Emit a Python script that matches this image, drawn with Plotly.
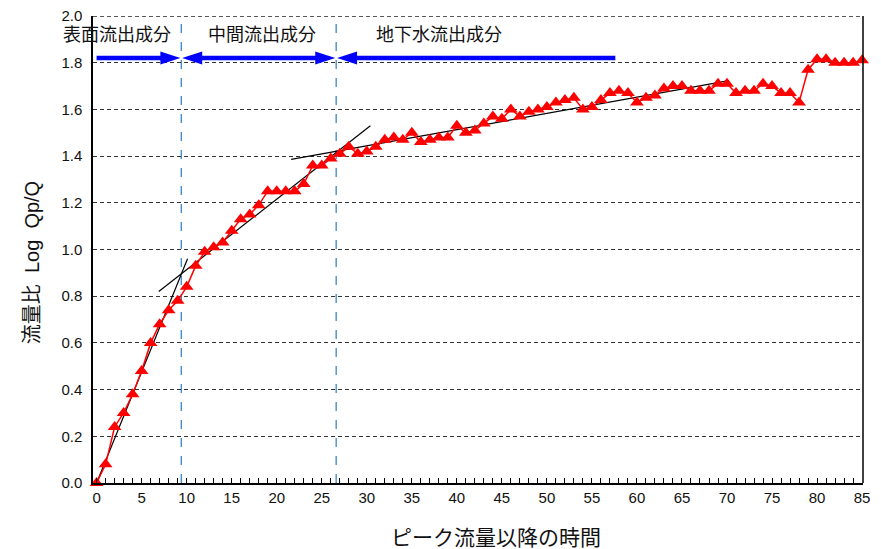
"""Recession-curve separation chart: log flow ratio vs. time since peak."""

import plotly.graph_objects as go

# time after peak and log(Qp/Q)
hours = list(range(0, 86))
log_ratio = [
    0.00, 0.08, 0.24, 0.30, 0.38, 0.48, 0.60, 0.68, 0.74, 0.78,
    0.84, 0.93, 0.99, 1.01, 1.03, 1.08, 1.13, 1.15, 1.19, 1.25,
    1.25, 1.25, 1.25, 1.28, 1.36, 1.36, 1.39, 1.41, 1.44, 1.41,
    1.42, 1.44, 1.47, 1.48, 1.47, 1.50, 1.46, 1.47, 1.48, 1.48,
    1.53, 1.50, 1.51, 1.54, 1.57, 1.56, 1.60, 1.57, 1.59, 1.60,
    1.61, 1.63, 1.64, 1.65, 1.60, 1.61, 1.64, 1.67, 1.68, 1.67,
    1.63, 1.65, 1.66, 1.69, 1.70, 1.70, 1.68, 1.68, 1.68, 1.71,
    1.71, 1.67, 1.68, 1.68, 1.71, 1.70, 1.67, 1.67, 1.63, 1.77,
    1.815, 1.815, 1.80, 1.80, 1.80, 1.81,
]

# straight-line fits for each runoff component: (x0, y0, x1, y1)
fit_lines = [
    (0.0, 0.00, 10.1, 0.96),
    (6.9, 0.82, 30.4, 1.53),
    (21.6, 1.386, 70.2, 1.723),
]

# component boundaries (blue dashed verticals)
phase_bounds = [9.4, 26.6]

# component arrows: start, end, which ends carry a head
arrow_y = 1.82
arrow_spans = [(0.0, 9.3, "end"), (9.5, 26.5, "both"), (26.7, 57.6, "start")]

# component labels
label_texts = ["表面流出成分", "中間流出成分", "地下水流出成分"]
label_x = [2.3, 18.4, 38.0]
label_y = 1.92

y_ticks = [round(0.2 * i, 1) for i in range(11)]
x_ticks = list(range(0, 86, 5))
y_max = 2.0

FONT = "Liberation Sans, Arial, Noto Sans CJK JP"
BLUE = "#0000ff"

fig = go.Figure()

for x0, y0, x1, y1 in fit_lines:
    fig.add_trace(go.Scatter(
        x=[x0, x1], y=[y0, y1], mode="lines",
        line={"color": "black", "width": 1.2}, hoverinfo="skip",
    ))

fig.add_trace(go.Scatter(
    x=hours, y=log_ratio, mode="lines+markers", cliponaxis=False,
    line={"color": "#ff0000", "width": 1.5},
    marker={"symbol": "triangle-up", "size": 12, "color": "#ff0000"},
))

for bx in phase_bounds:
    fig.add_shape(type="line", xref="x", yref="paper", x0=bx, x1=bx, y0=0, y1=1,
                  line={"color": "#2a7bc4", "width": 1.2, "dash": "dash"}, layer="below")

# arrows: thick shaft plus pixel-sized heads anchored at the span ends
for x0, x1, heads in arrow_spans:
    sx0 = x0 + (2.0 if heads in ("start", "both") else 0)
    sx1 = x1 - (2.0 if heads in ("end", "both") else 0)
    fig.add_shape(type="line", x0=sx0, x1=sx1, y0=arrow_y, y1=arrow_y,
                  line={"color": BLUE, "width": 4.5})
    if heads in ("end", "both"):
        fig.add_shape(type="path", xsizemode="pixel", ysizemode="pixel",
                      xanchor=x1, yanchor=arrow_y,
                      path="M 0 0 L -20 6.5 L -20 -6.5 Z",
                      fillcolor=BLUE, line={"width": 0})
    if heads in ("start", "both"):
        fig.add_shape(type="path", xsizemode="pixel", ysizemode="pixel",
                      xanchor=x0, yanchor=arrow_y,
                      path="M 0 0 L 20 6.5 L 20 -6.5 Z",
                      fillcolor=BLUE, line={"width": 0})

for text, lx in zip(label_texts, label_x):
    fig.add_annotation(x=lx, y=label_y, text=text, showarrow=False,
                       font={"size": 18, "color": "#111"})

# axis titles as annotations so they sit where the original puts them
fig.add_annotation(xref="paper", yref="paper", x=-0.079, y=0.471,
                   xanchor="center", yanchor="middle",
                   text="流量比  Log  Qp/Q", textangle=-90, showarrow=False,
                   font={"size": 20, "color": "#111"})
fig.add_annotation(xref="paper", yref="paper", x=0.523, y=-0.116,
                   xanchor="center", yanchor="middle",
                   text="ピーク流量以降の時間", showarrow=False,
                   font={"size": 21, "color": "#111"})

# top edge of the frame is the dashed 2.0 gridline; right edge is solid
fig.add_shape(type="line", xref="paper", yref="y", x0=0, x1=1, y0=y_max, y1=y_max,
              line={"color": "#222", "width": 1.5, "dash": "4px,3px"})
fig.add_shape(type="line", xref="paper", yref="paper", x0=1, x1=1, y0=0, y1=1,
              line={"color": "black", "width": 1.5})

# the page body has an 8px margin, so the figure margins absorb that offset
fig.update_layout(
    width=881, height=549,
    margin={"l": 85, "r": 26, "t": 8, "b": 74},
    paper_bgcolor="white", plot_bgcolor="white",
    showlegend=False,
    font={"family": FONT, "size": 15, "color": "#111"},
    xaxis={
        "range": [-0.4, 85.1], "tickvals": x_ticks, "showgrid": False,
        "automargin": False,
        "zeroline": False, "showline": True, "linecolor": "black", "linewidth": 2,
        "mirror": False, "ticks": "inside", "ticklen": 5, "tickcolor": "black",
        "minor": {"dtick": 1, "ticks": "inside", "ticklen": 5, "tickcolor": "black"},
    },
    yaxis={
        "range": [0, y_max], "tickvals": y_ticks, "tickformat": ".1f",
        "ticklabeloverflow": "allow", "automargin": False,
        "showgrid": True, "gridcolor": "#333", "griddash": "4px,3px", "gridwidth": 1,
        "zeroline": False, "showline": True, "linecolor": "black", "linewidth": 1.5,
        "mirror": False, "ticks": "", "ticklabelstandoff": 6,
    },
)

fig.write_html("out.html")
